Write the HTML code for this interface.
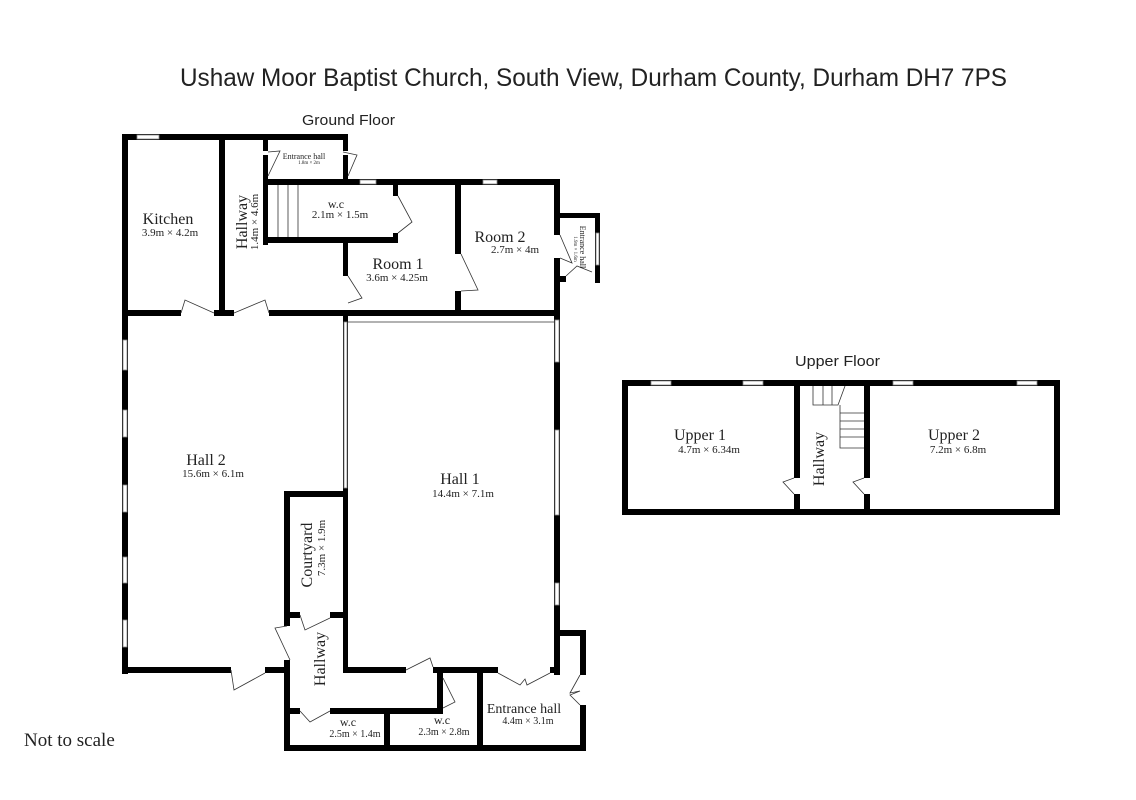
<!DOCTYPE html>
<html><head><meta charset="utf-8"><style>
html,body{margin:0;padding:0;background:#fff;}
svg{display:block;}
text{font-family:"Liberation Serif",serif;fill:#222;}
</style></head><body>
<svg width="1136" height="800" viewBox="0 0 1136 800" xmlns="http://www.w3.org/2000/svg">
<rect width="1136" height="800" fill="#fff"/>
<text x="180" y="86" font-size="25" textLength="827" lengthAdjust="spacingAndGlyphs" style="font-family:'Liberation Sans Narrow','Liberation Sans',sans-serif">Ushaw Moor Baptist Church, South View, Durham County, Durham DH7 7PS</text>
<text x="302" y="125" font-size="15" textLength="93" lengthAdjust="spacingAndGlyphs" style="font-family:'Liberation Sans Narrow','Liberation Sans',sans-serif">Ground Floor</text>
<text x="795" y="366" font-size="15" textLength="85" lengthAdjust="spacingAndGlyphs" style="font-family:'Liberation Sans Narrow','Liberation Sans',sans-serif">Upper Floor</text>
<text x="24" y="746" font-size="19">Not to scale</text>

<g fill="#000">
<rect x="122" y="134" width="226" height="6"/>
<rect x="122" y="134" width="6" height="540"/>
<rect x="219" y="134" width="6" height="182"/>
<rect x="263" y="134" width="5" height="17"/>
<rect x="343" y="134" width="5" height="17"/>
<rect x="263" y="179" width="297" height="6"/>
<rect x="263" y="155" width="5" height="90"/>
<rect x="343" y="155" width="5" height="28"/>
<rect x="263" y="237" width="134" height="6"/>
<rect x="393" y="182" width="5" height="14"/>
<rect x="393" y="233" width="5" height="10"/>
<rect x="343" y="240" width="5" height="36"/>
<rect x="455" y="179" width="6" height="75"/>
<rect x="455" y="291" width="6" height="22"/>
<rect x="554" y="179" width="6" height="56"/>
<rect x="554" y="258" width="6" height="58"/>
<rect x="554" y="213" width="46" height="5"/>
<rect x="595" y="213" width="5" height="70"/>
<rect x="554" y="276" width="12" height="6"/>
<rect x="122" y="310" width="59" height="6"/>
<rect x="214" y="310" width="20" height="6"/>
<rect x="269" y="310" width="291" height="6"/>
<rect x="343" y="310" width="5" height="180"/>
<rect x="554" y="310" width="6" height="365"/>
<rect x="122" y="667" width="109" height="6"/>
<rect x="265" y="667" width="25" height="6"/>
<rect x="284" y="491" width="64" height="6"/>
<rect x="284" y="491" width="6" height="135"/>
<rect x="284" y="612" width="16" height="6"/>
<rect x="330" y="612" width="18" height="6"/>
<rect x="343" y="486" width="5" height="187"/>
<rect x="284" y="660" width="6" height="91"/>
<rect x="343" y="667" width="63" height="6"/>
<rect x="433" y="667" width="65" height="6"/>
<rect x="550" y="667" width="10" height="6"/>
<rect x="554" y="630" width="32" height="6"/>
<rect x="580" y="630" width="6" height="45"/>
<rect x="580" y="705" width="6" height="46"/>
<rect x="284" y="745" width="302" height="6"/>
<rect x="284" y="708" width="16" height="6"/>
<rect x="330" y="708" width="113" height="6"/>
<rect x="437" y="673" width="6" height="41"/>
<rect x="384" y="708" width="6" height="40"/>
<rect x="477" y="667" width="6" height="82"/>
<rect x="622" y="380" width="437" height="6"/>
<rect x="622" y="380" width="6" height="135"/>
<rect x="1054" y="380" width="6" height="135"/>
<rect x="622" y="509" width="437" height="6"/>
<rect x="794" y="380" width="6" height="98"/>
<rect x="794" y="494" width="6" height="20"/>
<rect x="864" y="380" width="6" height="98"/>
<rect x="864" y="494" width="6" height="20"/>
</g>
<g fill="#fff" stroke="#888" stroke-width="0.8">
<rect x="137" y="135" width="22" height="4"/>
<rect x="360" y="180" width="16" height="4"/>
<rect x="483" y="180" width="14" height="4"/>
<rect x="596" y="233" width="3" height="32"/>
<rect x="123" y="340" width="4" height="30"/>
<rect x="123" y="485" width="4" height="27"/>
<rect x="123" y="557" width="4" height="26"/>
<rect x="123" y="620" width="4" height="27"/>
<rect x="123" y="410" width="4" height="27"/>
<rect x="555" y="320" width="4" height="42"/>
<rect x="555" y="430" width="4" height="85"/>
<rect x="555" y="583" width="4" height="22"/>
<rect x="344" y="322" width="3" height="166"/>
<rect x="651" y="381" width="20" height="4"/>
<rect x="743" y="381" width="20" height="4"/>
<rect x="893" y="381" width="20" height="4"/>
<rect x="1017" y="381" width="20" height="4"/>
</g>
<g fill="none" stroke="#333" stroke-width="0.8">
<line x1="348" y1="322" x2="554" y2="322"/>
<line x1="278" y1="185" x2="278" y2="237"/><line x1="288" y1="185" x2="288" y2="237"/><line x1="298" y1="185" x2="298" y2="237"/>
<polyline points="268,152 280,151 268,176"/>
<polyline points="343,152 357,155 348,176"/>
<polyline points="398,196 412,222 398,233"/>
<polyline points="348,276 362,298 348,303"/>
<polyline points="461,254 478,290 461,291"/>
<polyline points="560,235 572,263 560,258"/>
<polyline points="566,276 577,266 592,272"/>
<polyline points="181,313 185,300 214,313"/>
<polyline points="234,313 265,300 269,313"/>
<polyline points="231,670 234,690 265,673"/>
<polyline points="287,626 275,628 290,660"/>
<polyline points="300,615 305,630 330,618"/>
<polyline points="406,670 430,658 433,667"/>
<polyline points="443,678 455,702 443,708"/>
<polyline points="300,711 310,722 330,711"/>
<polyline points="498,673 520,685 525,679 527,685 550,673"/>
<polyline points="580,675 570,693 580,691 570,695 580,705"/>
<polyline points="813,386 813,405 838,405 845,386"/>
<line x1="823" y1="386" x2="823" y2="405"/><line x1="832" y1="386" x2="832" y2="405"/>
<polyline points="840,405 840,448 864,448"/>
<line x1="840" y1="413" x2="864" y2="413"/><line x1="840" y1="421" x2="864" y2="421"/><line x1="840" y1="429" x2="864" y2="429"/><line x1="840" y1="437" x2="864" y2="437"/>
<polyline points="794,478 783,482 794,494"/>
<polyline points="864,478 853,482 864,494"/>
</g>
<g text-anchor="middle">
<text x="168" y="224" font-size="16">Kitchen</text>
<text x="170" y="236" font-size="11">3.9m × 4.2m</text>
<text x="304" y="159" font-size="8">Entrance hall</text>
<text x="309" y="164" font-size="5">1.8m × 2m</text>
<text x="336" y="208" font-size="12">w.c</text>
<text x="340" y="218" font-size="11">2.1m × 1.5m</text>
<text x="398" y="269" font-size="16">Room 1</text>
<text x="397" y="281" font-size="11">3.6m × 4.25m</text>
<text x="500" y="242" font-size="16">Room 2</text>
<text x="515" y="253" font-size="11">2.7m × 4m</text>
<text x="206" y="465" font-size="16">Hall 2</text>
<text x="213" y="477" font-size="11">15.6m × 6.1m</text>
<text x="460" y="484" font-size="16">Hall 1</text>
<text x="463" y="497" font-size="11">14.4m × 7.1m</text>
<text x="348" y="726" font-size="12">w.c</text>
<text x="355" y="737" font-size="10">2.5m × 1.4m</text>
<text x="442" y="724" font-size="12">w.c</text>
<text x="444" y="735" font-size="10">2.3m × 2.8m</text>
<text x="524" y="713" font-size="14">Entrance hall</text>
<text x="528" y="724" font-size="10">4.4m × 3.1m</text>
<text x="700" y="440" font-size="16">Upper 1</text>
<text x="709" y="453" font-size="11">4.7m × 6.34m</text>
<text x="954" y="440" font-size="16">Upper 2</text>
<text x="958" y="453" font-size="11">7.2m × 6.8m</text>
<text transform="translate(247,222) rotate(-90)" font-size="16">Hallway</text>
<text transform="translate(258,222) rotate(-90)" font-size="11">1.4m × 4.6m</text>
<text transform="translate(312,555) rotate(-90)" font-size="16">Courtyard</text>
<text transform="translate(325,548) rotate(-90)" font-size="11">7.3m × 1.9m</text>
<text transform="translate(325,659) rotate(-90)" font-size="16">Hallway</text>
<text transform="translate(824,459) rotate(-90)" font-size="16">Hallway</text>
<text transform="translate(580,247) rotate(90)" font-size="8">Entrance hall</text>
<text transform="translate(574,249) rotate(90)" font-size="5">1.9m × 1.6m</text>
</g>
</svg>
</body></html>
